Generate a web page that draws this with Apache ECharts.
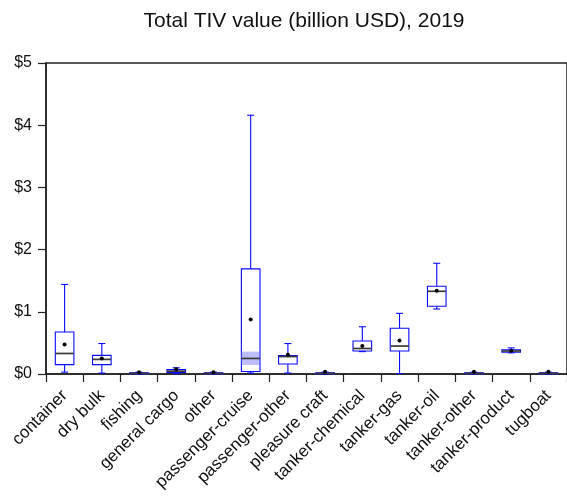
<!DOCTYPE html>
<html>
<head>
<meta charset="utf-8">
<script src="https://cdn.jsdelivr.net/npm/echarts@6/dist/echarts.min.js"></script>
<style>
  html, body { margin: 0; padding: 0; background: #fff; }
  #chart { width: 567px; height: 499px; }
</style>
</head>
<body>
<div id="chart"></div>
<script>
// Vessel types and their TIV distribution statistics (billion USD)
const categories = ['container', 'dry bulk', 'fishing', 'general cargo', 'other',
  'passenger-cruise', 'passenger-other', 'pleasure craft', 'tanker-chemical',
  'tanker-gas', 'tanker-oil', 'tanker-other', 'tanker-product', 'tugboat'];
const minVals  = [0.03, 0.015, 0.0,   0.005, 0.0,   0.015, 0.015, 0.0,   0.36, 0.005, 1.045, 0.0,   0.34, 0.0];
const q1Vals   = [0.15, 0.15,  0.005, 0.025, 0.005, 0.04,  0.16,  0.005, 0.37, 0.37,  1.09,  0.005, 0.35, 0.005];
const medVals  = [0.33, 0.235, 0.01,  0.045, 0.01,  0.25,  0.28,  0.01,  0.41, 0.45,  1.33,  0.01,  0.37, 0.01];
const q3Vals   = [0.675, 0.30, 0.02,  0.07,  0.02,  1.69,  0.295, 0.02,  0.53, 0.735, 1.41,  0.02,  0.39, 0.02];
const maxVals  = [1.44, 0.49,  0.03,  0.10,  0.03,  4.16,  0.49,  0.03,  0.76, 0.975, 1.78,  0.03,  0.42, 0.03];
const meanVals = [0.475, 0.25, 0.03,  0.075, 0.03,  0.875, 0.31,  0.035, 0.45, 0.54,  1.34,  0.035, 0.375, 0.035];
// Median confidence band (shaded) where visible
const ciLow  = [null, null, null, null, null, 0.145, null, null, null, null, null, null, null, null];
const ciHigh = [null, null, null, null, null, 0.36,  null, null, null, null, null, null, null, null];
const yTicks = [0, 1, 2, 3, 4, 5];

const FONT = 'Liberation Sans, Arial, sans-serif';
const BLUE = '#0a0aff';

const boxData = categories.map((c, i) => [i, minVals[i], q1Vals[i], medVals[i], q3Vals[i], maxVals[i], meanVals[i], ciLow[i], ciHigh[i]]);

function renderBox(params, api) {
  const i = api.value(0);
  const band = api.size([1, 0])[0];
  const halfW = band * 0.25;
  const capW = 3.5;
  const pMin = api.coord([i, api.value(1)]);
  const pQ1 = api.coord([i, api.value(2)]);
  const pMed = api.coord([i, api.value(3)]);
  const pQ3 = api.coord([i, api.value(4)]);
  const pMax = api.coord([i, api.value(5)]);
  const pMean = api.coord([i, api.value(6)]);
  const x = pMed[0];
  const children = [];
  const lineStyle = { stroke: BLUE, lineWidth: 1.1, fill: null };
  // whiskers
  children.push({ type: 'line', shape: { x1: x, y1: pQ3[1], x2: x, y2: pMax[1] }, style: lineStyle });
  children.push({ type: 'line', shape: { x1: x, y1: pQ1[1], x2: x, y2: pMin[1] }, style: lineStyle });
  children.push({ type: 'line', shape: { x1: x - capW, y1: pMax[1], x2: x + capW, y2: pMax[1] }, style: lineStyle });
  children.push({ type: 'line', shape: { x1: x - capW, y1: pMin[1], x2: x + capW, y2: pMin[1] }, style: lineStyle });
  // box
  children.push({ type: 'rect', shape: { x: x - halfW, y: pQ3[1], width: 2 * halfW, height: Math.max(pQ1[1] - pQ3[1], 1) },
    style: { fill: '#ffffff', stroke: BLUE, lineWidth: 1.1 } });
  // median confidence band
  const lo = api.value(7), hi = api.value(8);
  if (!isNaN(lo) && !isNaN(hi) && lo !== null && hi !== null && hi > 0) {
    const pLo = api.coord([i, lo]);
    const pHi = api.coord([i, hi]);
    children.push({ type: 'rect', shape: { x: x - halfW, y: pHi[1], width: 2 * halfW, height: pLo[1] - pHi[1] },
      style: { fill: 'rgba(110,110,255,0.45)', stroke: null } });
  }
  // median
  children.push({ type: 'line', shape: { x1: x - halfW, y1: pMed[1], x2: x + halfW, y2: pMed[1] },
    style: { stroke: '#3a3a3a', lineWidth: 1.7 } });
  // mean
  children.push({ type: 'circle', shape: { cx: x, cy: pMean[1], r: 2 }, style: { fill: '#000000' } });
  return { type: 'group', children };
}

const chart = echarts.init(document.getElementById('chart'), null, { renderer: 'canvas' });
chart.setOption({
  animation: false,
  title: {
    text: 'Total TIV value (billion USD), 2019',
    left: 299, top: 6, textAlign: 'center',
    textStyle: { fontFamily: FONT, fontSize: 21, fontWeight: 'normal', color: '#111' }
  },
  grid: { left: 46, top: 63, width: 522, height: 311, show: true, borderColor: '#222', borderWidth: 1.5, containLabel: false },
  xAxis: {
    type: 'category',
    data: categories,
    boundaryGap: true,
    axisLine: { lineStyle: { color: '#222', width: 1.5 } },
    axisTick: { show: true, inside: false, length: 8, lineStyle: { color: '#222', width: 1.2 } },
    axisLabel: { rotate: 45, interval: 0, margin: 19, fontFamily: FONT, fontSize: 17, color: '#111' },
    splitLine: { show: false }
  },
  yAxis: {
    type: 'value',
    min: 0, max: 5, interval: 1,
    axisLine: { show: true, lineStyle: { color: '#222', width: 1.5 } },
    axisTick: { show: true, inside: false, length: 8, lineStyle: { color: '#222', width: 1.2 } },
    axisLabel: {
      margin: 14, fontFamily: FONT, fontSize: 16, color: '#111',
      formatter: v => yTicks.indexOf(v) >= 0 ? '$' + v : ''
    },
    splitLine: { show: false }
  },
  series: [{
    type: 'custom',
    renderItem: renderBox,
    encode: { x: 0, y: [1, 5] },
    data: boxData,
    clip: false
  }]
});
</script>
</body>
</html>
